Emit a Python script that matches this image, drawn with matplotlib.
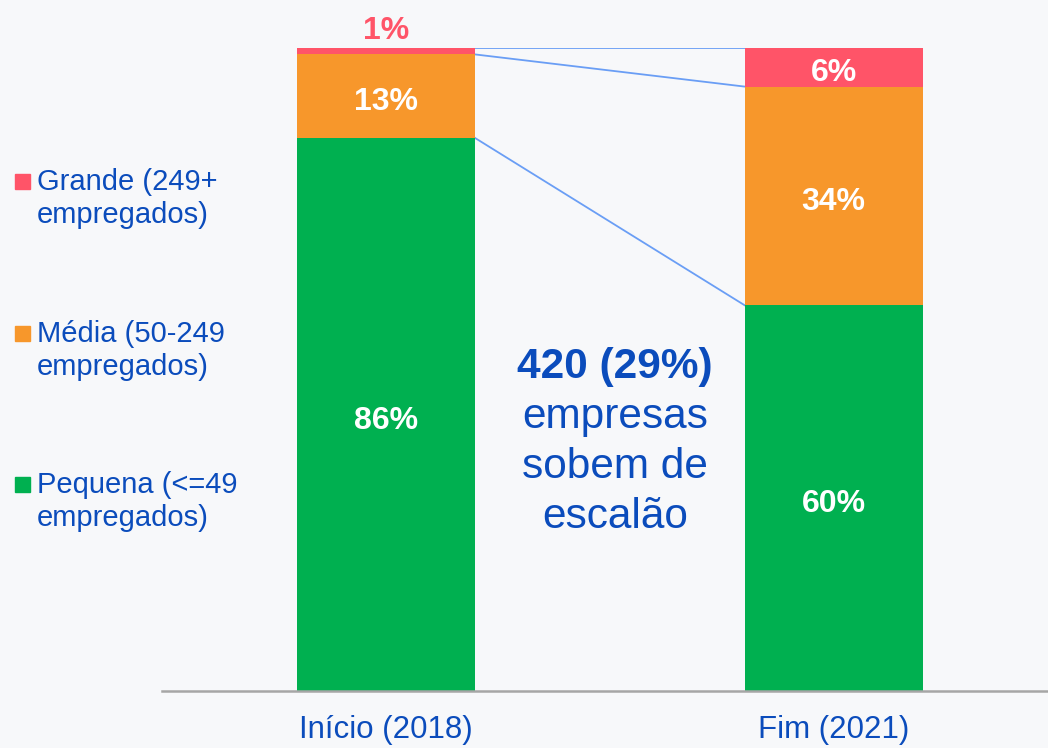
import matplotlib.pyplot as plt
import numpy as np

plt.rcParams['font.family'] = ['Liberation Sans', 'DejaVu Sans']

periods = ["Início (2018)", "Fim (2021)"]
series = [("Pequena (<=49", "empregados)"),
          ("Média (50-249", "empregados)"),
          ("Grande (249+", "empregados)")]
pequena = [86, 60]
media = [13, 34]
grande = [1, 6]
labels = [["86%", "60%"], ["13%", "34%"], ["1%", "6%"]]
note_head = "420 (29%)"
note_lines = ["empresas", "sobem de", "escalão"]

colors = ["#00B050", "#F7972B", "#FF5468"]
blue = "#0B4CBC"
bg = "#F7F8FA"

W, H = 1048, 748
fig = plt.figure(figsize=(W / 100, H / 100), dpi=100, facecolor=bg)
ax = fig.add_axes([162 / W, 57 / H, 886 / W, 643 / H])
ax.set_facecolor(bg)
px = 100 / 643  # one pixel in data units on y

x = np.arange(len(periods))
width = 0.398
values = [pequena, media, grande]
bottom = np.zeros(len(periods))
for i, vals in enumerate(values):
    ax.bar(x, vals, width, bottom=bottom, color=colors[i], zorder=2)
    for j, v in enumerate(vals):
        if v < 3:
            ax.text(x[j], bottom[j] + v + 9 * px, labels[i][j], ha="center",
                    va="baseline", color=colors[i], fontsize=23, fontweight="bold")
        else:
            ax.text(x[j], bottom[j] + v / 2 - 14 * px, labels[i][j], ha="center",
                    va="baseline", color="white", fontsize=23, fontweight="bold",
                    zorder=3)
    bottom = bottom + np.array(vals)
    # connector line at the top of each segment
    ax.plot([x[0] + width / 2, x[1] - width / 2], [bottom[0], bottom[1]],
            color="#6A9EF5", lw=1.3, zorder=1)

ax.set_xlim(-0.5006, 1.479)
ax.set_ylim(0, 100)
ax.set_xticks(x)
ax.set_xticklabels(periods, fontsize=22.5, color=blue)
ax.tick_params(axis="x", length=0, pad=17)
ax.set_yticks([])
for s in ["top", "right", "left"]:
    ax.spines[s].set_visible(False)
ax.spines["bottom"].set_color("#A6A6A6")
ax.spines["bottom"].set_linewidth(1.8)

# central annotation
cx = 0.511
ax.text(cx, (691 - 378) * px, note_head, ha="center", va="baseline", color=blue,
        fontsize=30.5, fontweight="bold")
for k, line in enumerate(note_lines):
    ax.text(cx, (691 - 428 - 50 * k) * px, line, ha="center", va="baseline",
            color=blue, fontsize=30.5)

# legend on the left
legend_base = [493, 342, 190]
for (l1, l2), c, y in zip(series, colors, legend_base):
    fig.patches.append(plt.Rectangle((15 / W, 1 - (y - 1) / H), 15 / W, 15 / H,
                                     transform=fig.transFigure, color=c))
    fig.text(37 / W, 1 - y / H, l1, ha="left", va="baseline", color=blue, fontsize=21)
    fig.text(37 / W, 1 - (y + 33) / H, l2, ha="left", va="baseline", color=blue,
             fontsize=21)

fig.savefig("out.png", dpi=100, facecolor=bg)
